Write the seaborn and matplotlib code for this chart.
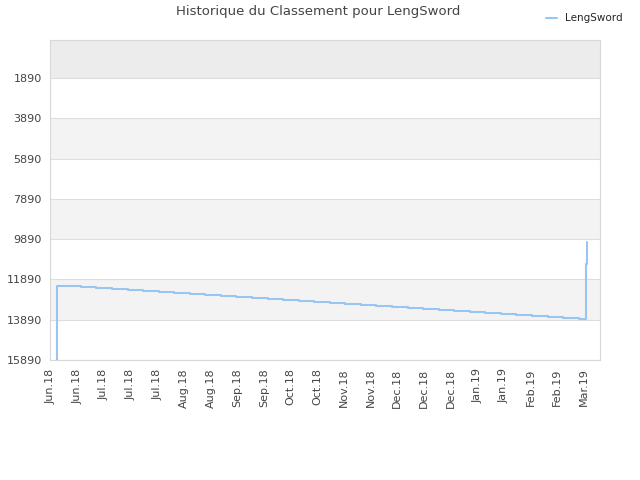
import matplotlib
matplotlib.use("Agg")
import matplotlib.pyplot as plt
import seaborn as sns
import pandas as pd
from matplotlib.lines import Line2D

# --- data ---
# day offsets (tick spacing = 14 days) and rank values
days = [3.1, 3.2, 7.5, 15.8, 23.8, 32.2, 40.4, 48.5, 56.7, 64.7, 73.0, 81.0,
        89.2, 97.3, 105.7, 114.1, 122.0, 130.4, 138.2, 146.6, 154.5, 162.9,
        170.8, 179.2, 187.6, 195.5, 203.9, 211.7, 220.1, 228.0, 236.4, 244.3,
        252.7, 261.1, 269.0, 277.4, 280.9, 281.6]
ranks = [15890, 12202, 12237, 12287, 12336, 12386, 12436, 12485, 12535, 12584,
         12634, 12684, 12733, 12768, 12818, 12867, 12917, 12966, 13016, 13066,
         13115, 13165, 13214, 13264, 13314, 13363, 13413, 13462, 13512, 13562,
         13611, 13661, 13710, 13760, 13810, 13859, 11111, 10040]
player = "LengSword"

x_tick_labels = ["Jun.18", "Jun.18", "Jul.18", "Jul.18", "Jul.18", "Aug.18",
                 "Aug.18", "Sep.18", "Sep.18", "Oct.18", "Oct.18", "Nov.18",
                 "Nov.18", "Dec.18", "Dec.18", "Dec.18", "Jan.19", "Jan.19",
                 "Feb.19", "Feb.19", "Mar.19"]
y_ticks = [1890, 3890, 5890, 7890, 9890, 11890, 13890, 15890]
title = "Historique du Classement pour LengSword"

df = pd.DataFrame({"day": days, "rank": ranks, "player": player})

sns.set_style("white")
plt.rcParams['font.family'] = ['DejaVu Sans']

fig = plt.figure(figsize=(6.4, 4.8), dpi=100)
ax = fig.add_axes([50/640, 120/480, 550/640, 320/480])

y_top, y_bot = -10, 15890
# alternating background bands
edges = [y_top] + y_ticks
for i in range(len(edges) - 1):
    if i == 0:
        ax.axhspan(edges[i], edges[i+1], color="#ececec", zorder=0, lw=0)
    elif i % 2 == 0:
        ax.axhspan(edges[i], edges[i+1], color="#f3f3f3", zorder=0, lw=0)

line_color = "#99c6f1"
sns.lineplot(data=df, x="day", y="rank", hue="player", palette=[line_color],
             estimator=None, sort=False, drawstyle="steps-post",
             linewidth=1.5, ax=ax, legend=False, zorder=3)

ax.set_ylim(y_bot, y_top)
ax.set_xlim(-0.37, 288.4)
ax.set_yticks(y_ticks)
ax.set_yticklabels([str(v) for v in y_ticks])
ax.set_xticks([14 * i for i in range(len(x_tick_labels))])
ax.set_xticklabels(x_tick_labels, rotation=90)
ax.tick_params(axis="both", length=0, labelsize=8, colors="#444444", pad=6)
ax.set_xlabel("")
ax.set_ylabel("")
ax.yaxis.grid(True, color="#dddddd", linewidth=0.8, zorder=1)
ax.xaxis.grid(False)
ax.set_axisbelow(True)
for s in ax.spines.values():
    s.set_color("#d8d8d8")
    s.set_linewidth(0.8)

fig.text(318/640, 1 - 12/480, title, ha="center", va="center",
         fontsize=9.5, color="#444444")
# legend
fig.legend(handles=[Line2D([0], [0], color=line_color, lw=1.5)],
           labels=[player], loc="upper right",
           bbox_to_anchor=(632/640, 1 - 4/480), frameon=False,
           fontsize=7.5, handlelength=1.0, handletextpad=0.8)

fig.savefig("out.png", dpi=100)
